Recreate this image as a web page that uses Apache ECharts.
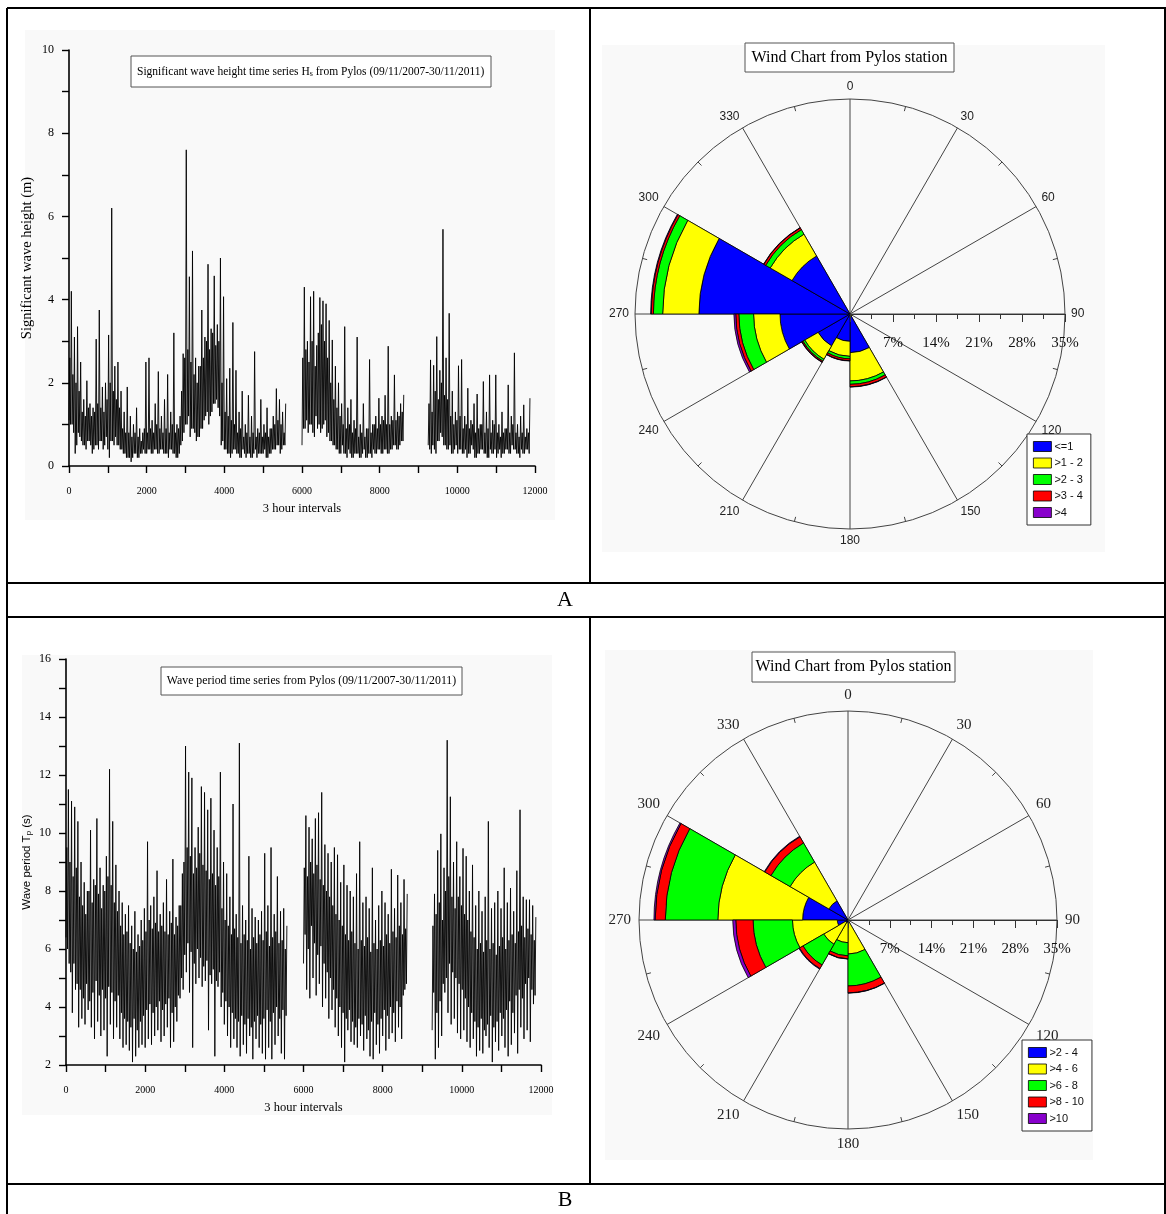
<!DOCTYPE html>
<html>
<head>
<meta charset="utf-8">
<title>Pylos wave and wind charts</title>
<script src="https://cdn.jsdelivr.net/npm/echarts@6/dist/echarts.min.js"></script>
<style>
  html, body { margin: 0; padding: 0; background: #fff; }
  #main { width: 1166px; height: 1214px; }
</style>
</head>
<body>
<div id="main"></div>
<script>
// ---------- time series: each group of four is trough, core top, trough, peak,
// ---------- one value every 20 three-hour steps ----------
const STEP = 20;
const SEGMENT_STARTS = [0, 6000, 9250];

// significant wave height Hs (m)
const hsSeg1 = [
  1.1,2.6,1.0,4.2, 1.0,2.2,0.8,3.1, 0.3,2.0,0.5,3.35, 0.8,1.8,0.7,2.5, 0.6,1.3,0.5,1.6,
  0.5,1.2,0.4,2.05, 0.6,1.4,0.6,1.5, 0.5,1.2,0.3,1.4, 0.4,1.3,0.5,3.05, 0.5,1.5,0.4,3.75,
  0.6,1.4,0.6,1.9, 0.4,1.3,0.5,2.0, 0.7,1.6,0.4,3.15, 0.2,2.0,0.6,6.2, 0.6,1.8,0.5,2.4,
  0.7,1.6,0.5,2.5, 0.5,1.4,0.4,1.8, 0.4,0.9,0.3,1.3, 0.3,0.8,0.2,1.9, 0.2,0.8,0.2,1.2,
  0.1,0.7,0.2,1.0, 0.3,0.8,0.3,1.4, 0.2,0.7,0.2,0.9, 0.3,0.6,0.3,0.8, 0.4,0.9,0.3,2.5,
  0.3,0.8,0.4,2.6, 0.4,0.9,0.3,1.1, 0.3,0.8,0.4,1.5, 0.4,1.0,0.3,2.27, 0.3,0.9,0.4,1.2,
  0.4,0.8,0.3,1.6, 0.3,0.9,0.3,2.2, 0.2,0.8,0.4,1.3, 0.4,1.0,0.3,3.2, 0.3,0.8,0.2,1.0,
  0.2,0.9,0.3,1.2, 0.5,1.8,0.6,2.7, 0.8,2.6,1.0,7.6, 1.0,2.8,1.2,4.55, 0.7,2.5,0.9,5.17,
  0.9,2.2,0.8,2.6, 0.6,2.0,0.7,2.4, 0.7,2.4,0.9,3.75, 0.9,2.6,1.1,3.1, 1.2,3.0,1.3,4.85,
  1.0,2.8,1.2,3.3, 1.3,3.2,1.5,4.57, 1.5,2.9,1.6,3.4, 1.4,3.0,1.2,5.0, 0.5,2.0,0.6,4.07,
  0.4,1.3,0.4,2.1, 0.3,1.2,0.3,2.35, 0.2,1.1,0.3,3.45, 0.4,1.0,0.4,2.3, 0.3,0.8,0.3,1.3,
  0.2,0.9,0.2,1.8, 0.4,0.7,0.3,1.0, 0.2,0.8,0.3,1.7, 0.3,0.7,0.2,1.2, 0.2,0.8,0.3,2.75,
  0.4,0.7,0.2,0.9, 0.3,0.8,0.3,1.6, 0.3,0.7,0.3,1.0, 0.4,0.8,0.2,1.4, 0.2,0.7,0.3,0.9,
  0.3,0.9,0.4,1.2, 0.4,1.0,0.4,1.86, 0.5,1.1,0.5,1.6, 0.3,1.0,0.4,1.3, 0.5,0.8,0.5,1.5];
const hsSeg2 = [
  0.5,2.6,0.9,4.3, 0.9,2.8,1.1,3.0, 0.8,2.5,1.0,4.07, 1.0,3.0,0.8,4.2, 0.7,2.4,1.2,2.9,
  0.9,3.2,1.0,4.05, 0.8,3.4,0.9,3.97, 1.0,3.0,1.1,3.9, 0.7,2.6,0.8,3.5, 0.6,2.0,0.6,3.03,
  0.5,1.6,0.5,2.4, 0.4,1.4,0.4,2.0, 0.3,1.2,0.3,1.5, 0.5,1.0,0.3,3.35, 0.3,0.9,0.2,1.4,
  0.4,1.0,0.3,1.6, 0.2,0.8,0.2,1.1, 0.3,0.9,0.3,3.1, 0.3,0.7,0.2,1.0, 0.2,0.8,0.3,1.5,
  0.4,0.7,0.2,0.9, 0.2,0.9,0.3,2.56, 0.3,0.8,0.2,1.0, 0.4,1.0,0.3,1.2, 0.3,0.9,0.4,1.63,
  0.4,1.0,0.3,1.2, 0.3,1.1,0.4,1.7, 0.4,1.0,0.3,2.88, 0.3,1.0,0.4,1.2, 0.4,1.1,0.5,2.19,
  0.5,1.1,0.4,1.3, 0.4,1.2,0.5,1.5, 0.6,1.3,0.6,1.71];
const hsSeg3 = [
  0.5,1.5,0.4,2.55, 0.3,1.3,0.5,2.42, 0.4,1.8,0.3,3.11, 0.6,1.6,0.6,2.3, 0.8,2.0,0.7,5.69,
  0.5,1.7,0.5,2.6, 0.4,1.6,0.4,3.67, 0.5,1.2,0.3,1.8, 0.3,1.0,0.4,1.3, 0.5,1.1,0.3,2.41,
  0.4,1.2,0.4,2.56, 0.3,0.9,0.3,1.2, 0.4,1.0,0.2,1.87, 0.3,0.9,0.3,1.1, 0.5,1.0,0.4,1.5,
  0.2,0.8,0.2,1.73, 0.3,0.9,0.3,1.0, 0.4,1.0,0.4,2.03, 0.3,0.8,0.3,1.3, 0.2,0.9,0.2,2.19,
  0.4,0.8,0.3,1.1, 0.3,1.0,0.4,2.19, 0.2,0.8,0.3,1.0, 0.4,0.7,0.2,1.3, 0.3,0.8,0.3,0.9,
  0.4,0.9,0.4,1.95, 0.3,0.8,0.3,1.2, 0.5,1.0,0.4,2.72, 0.4,0.8,0.3,1.0, 0.3,0.7,0.2,1.2,
  0.4,0.8,0.3,1.47, 0.3,0.7,0.4,0.9, 0.4,0.8,0.3,1.63];

// peak wave period Tp (s)
const tpSeg1 = [
  6.4,9.5,6.0,11.5, 5.5,9.0,5.2,11.1, 3.8,8.5,5.5,10.9, 4.6,8.8,4.8,10.4, 3.3,7.8,4.6,9.0,
  3.6,7.5,4.3,8.3, 3.4,7.2,4.8,8.0, 3.9,8.0,4.2,10.1, 3.3,7.6,4.5,8.4, 2.9,8.2,4.9,10.5,
  3.5,7.9,4.4,8.8, 3.0,7.4,4.6,8.2, 3.2,8.0,4.3,9.2, 2.3,8.5,4.7,12.2, 3.4,8.2,4.5,10.4,
  2.9,7.6,4.2,8.9, 3.3,7.3,4.4,8.0, 2.9,6.8,3.8,7.6, 2.6,6.5,3.6,7.2, 2.7,6.6,3.5,7.5,
  2.5,6.2,3.3,6.8, 2.1,6.0,3.6,7.3, 2.3,5.9,3.2,6.5, 2.6,6.1,3.5,7.0, 2.7,6.3,3.7,7.4,
  2.6,6.6,3.9,9.7, 2.9,7.0,4.1,7.5, 2.7,6.7,3.8,7.8, 3.0,6.9,4.0,8.7, 3.2,6.6,4.2,7.2,
  2.8,6.8,3.9,7.6, 3.0,6.6,4.1,8.4, 3.3,6.5,4.3,7.3, 2.6,6.9,3.8,9.1, 2.8,6.5,4.0,7.1,
  3.5,6.8,4.4,7.5, 4.3,7.5,5.0,8.6, 4.6,9.0,5.8,13.0, 5.2,9.5,6.2,12.1, 4.5,9.2,5.9,11.9,
  2.6,8.6,5.5,9.5, 4.8,8.8,6.0,10.2, 5.0,9.3,5.7,11.6, 4.7,8.9,5.4,11.4, 4.9,8.7,5.6,10.8,
  3.2,8.4,5.1,11.2, 4.8,8.6,5.3,10.1, 2.3,8.2,4.9,9.5, 4.7,8.5,5.2,12.1, 4.0,7.4,4.5,9.0,
  3.4,7.0,4.2,8.6, 3.0,6.8,4.0,7.8, 2.6,6.5,3.8,11.0, 2.9,6.7,3.6,7.2, 2.6,6.4,3.5,13.1,
  2.3,6.2,3.7,7.5, 2.7,6.5,3.4,7.0, 2.4,6.3,3.6,9.2, 3.0,6.0,3.3,7.4, 2.2,6.4,3.5,7.1,
  2.9,6.2,3.7,7.0, 2.6,6.5,3.4,7.3, 2.4,6.3,3.6,9.3, 2.2,6.6,3.9,7.5, 2.6,6.1,3.5,9.5,
  2.2,6.4,3.8,7.2, 2.7,6.6,4.0,8.5, 3.0,6.2,3.6,7.3, 2.4,6.3,3.9,7.4, 2.2,6.0,3.7,6.8];
const tpSeg2 = [
  5.5,8.8,6.5,10.6, 4.6,8.5,6.0,10.2, 4.3,9.0,6.8,9.8, 5.0,8.6,6.2,10.5, 4.4,8.9,5.8,10.7,
  4.8,8.4,6.1,11.4, 4.0,8.2,5.5,9.6, 4.3,8.0,5.2,9.3, 3.6,7.8,5.0,9.0, 3.9,7.5,4.6,9.5,
  3.3,7.2,4.3,9.25, 3.0,7.0,4.0,8.3, 2.6,6.8,3.8,8.9, 2.1,6.5,3.6,8.2, 3.2,6.3,3.9,8.0,
  2.8,6.6,3.5,7.8, 2.7,6.2,3.3,8.6, 2.6,6.0,3.6,9.7, 3.0,6.3,3.4,7.6, 2.5,6.1,3.7,7.8,
  2.9,6.4,3.2,7.4, 2.3,5.9,3.5,8.8, 2.2,6.2,3.8,7.0, 2.7,6.0,3.4,7.5, 2.4,6.3,3.6,8.0,
  3.0,6.1,3.9,7.6, 2.5,6.5,3.7,7.2, 2.9,6.2,4.0,8.75, 3.1,6.6,3.8,7.4, 2.8,6.4,4.2,8.55,
  3.3,6.8,4.0,7.6, 2.9,6.5,4.4,8.4, 4.6,6.7,4.8,7.9];
const tpSeg3 = [
  3.2,6.8,4.5,7.9, 2.2,7.2,3.8,9.4, 2.6,7.6,4.2,9.97, 3.0,7.0,4.8,8.8, 4.5,8.0,5.0,13.2,
  3.8,8.5,5.5,11.25, 3.4,7.8,5.2,9.0, 3.6,7.4,5.0,9.7, 3.1,7.8,4.8,8.5, 2.9,7.5,4.6,9.47,
  3.2,7.2,4.3,9.2, 2.8,7.0,4.0,8.0, 2.6,6.6,3.8,8.9, 2.9,6.4,3.5,7.5, 2.3,6.0,3.3,8.0,
  2.5,6.2,3.6,7.3, 2.4,5.9,3.2,7.8, 3.0,6.3,3.4,10.4, 2.6,6.0,3.7,7.4, 2.1,6.2,3.3,7.6,
  2.8,5.8,3.5,8.0, 2.5,6.1,3.8,7.4, 3.0,6.4,3.6,8.8, 2.6,6.0,3.9,7.6, 2.3,6.3,4.2,8.1,
  2.7,6.5,3.8,7.3, 3.1,6.2,4.4,8.7, 2.4,6.6,4.6,10.8, 3.3,6.8,4.3,7.8, 2.9,6.4,4.8,7.7,
  3.2,6.7,5.0,7.7, 2.8,6.5,4.6,7.5, 4.1,6.3,4.4,7.1];

// ---------- rose diagrams: frequency (%) per 30-degree direction sector ----------
const directionBins = ['0-30','30-60','60-90','90-120','120-150','150-180',
                       '180-210','210-240','240-270','270-300','300-330','330-360'];

const hsClasses = ['<=1', '>1 - 2', '>2 - 3', '>3 - 4', '>4'];
const hsUpTo1  = ['-','-','-','-', 0.3, 6.3, 4.45, 6.0, 11.4, 24.6, 10.9, '-'];
const hs1to2   = ['-','-','-','-', 0.1, 4.6, 2.45, 2.5, 4.3, 5.9, 4.1, '-'];
const hs2to3   = ['-','-','-','-','-', 0.55, 0.4, 0.35, 2.4, 1.5, 0.85, '-'];
const hs3to4   = ['-','-','-','-','-', 0.4, 0.3, 0.2, 0.5, 0.35, 0.35, '-'];
const hsAbove4 = ['-','-','-','-','-', 0.05, 0.05, 0.05, 0.3, 0.1, 0.05, '-'];

const tpClasses = ['>2 - 4', '>4 - 6', '>6 - 8', '>8 - 10', '>10'];
const tp2to4    = ['-','-','-','-','-', 0.3, 0.4, 0.5, 1.8, 7.6, 3.7, '-'];
const tp4to6    = ['-','-','-','-','-', 5.4, 3.4, 4.2, 7.5, 14.2, 7.5, '-'];
const tp6to8    = ['-','-','-','-','-', 5.35, 2.2, 4.0, 6.6, 8.8, 3.7, '-'];
const tp8to10   = ['-','-','-','-','-', 1.15, 0.5, 0.7, 2.9, 1.7, 1.2, '-'];
const tpAbove10 = ['-','-','-','-','-', 0.05, 0.05, 0.1, 0.5, 0.2, 0.1, '-'];

const classColors = ['#0000ff', '#ffff00', '#00ff00', '#ff0000', '#8800cc'];

// ---------- styling ----------
const SERIF = 'Liberation Serif';
const SANS = 'Liberation Sans';

function toPoints(start, values) {
  return values.map((v, i) => [start + i * STEP, v]);
}

function waveLine(axisIndex, start, values) {
  return {
    type: 'line', xAxisIndex: axisIndex, yAxisIndex: axisIndex,
    data: toPoints(start, values), symbol: 'none', silent: true, sampling: null,
    lineStyle: { color: '#000', width: 0.9 }
  };
}

function roseBar(polarIndex, stack, name, data, color) {
  return {
    type: 'bar', coordinateSystem: 'polar', polarIndex: polarIndex,
    stack: stack, name: name, data: data, barCategoryGap: '0%', silent: true,
    itemStyle: { color: color, borderColor: '#000', borderWidth: 0.8 }
  };
}

function timeXAxis(gridIndex) {
  return {
    gridIndex: gridIndex, type: 'value', min: 0, max: 12000, interval: 1000,
    axisLine: { lineStyle: { color: '#000', width: 1.6 } },
    axisTick: { length: 7, lineStyle: { color: '#000', width: 1.4 } },
    splitLine: { show: false },
    axisLabel: { formatter: v => (v % 2000 === 0 ? String(v) : ''), fontFamily: SERIF, fontSize: 10, color: '#000', margin: 20 },
    name: '3 hour intervals', nameLocation: 'middle', nameGap: 36,
    nameTextStyle: { fontFamily: SERIF, fontSize: 12.5, color: '#000' }
  };
}

function timeYAxis(gridIndex, min, max) {
  return {
    gridIndex: gridIndex, type: 'value', min: min, max: max, interval: 1,
    axisLine: { show: true, lineStyle: { color: '#000', width: 1.6 } },
    axisTick: { show: true, length: 7, lineStyle: { color: '#000', width: 1.4 } },
    splitLine: { show: false },
    axisLabel: { formatter: v => (v % 2 === 0 ? String(v) : ''), fontFamily: SERIF, fontSize: 12, color: '#000', margin: 15 },
    nameLocation: 'middle'
  };
}

function frameAngleAxis(polarIndex, font, size, margin) {
  return {
    polarIndex: polarIndex, type: 'value', min: 0, max: 360, interval: 30,
    startAngle: 90, clockwise: true, z: 1,
    axisLine: { lineStyle: { color: '#444', width: 1 } },
    axisTick: { show: false, inside: true },
    minorTick: { show: true, splitNumber: 2, length: 5, lineStyle: { color: '#444' } },
    splitLine: { show: true, lineStyle: { color: '#444', width: 1 } },
    axisLabel: { color: '#222', fontFamily: font, fontSize: size, margin: margin }
  };
}

function percentXAxis(gridIndex) {
  return {
    gridIndex: gridIndex, type: 'value', min: 0, max: 35, interval: 7, z: 5,
    axisLine: { lineStyle: { color: '#333', width: 1 } },
    axisTick: { length: 8, lineStyle: { color: '#333' } },
    minorTick: { show: true, splitNumber: 2, length: 5, lineStyle: { color: '#333' } },
    splitLine: { show: false },
    axisLabel: { formatter: '{value}%', showMinLabel: false, margin: 22, fontFamily: SERIF, fontSize: 15, color: '#111' }
  };
}

function roseLegend(names, left, top) {
  return {
    data: names, orient: 'vertical', left: left, top: top,
    padding: [7, 8, 7, 6], itemWidth: 18, itemHeight: 10, itemGap: 5.5,
    backgroundColor: '#fff', borderColor: '#333', borderWidth: 1,
    icon: 'rect', selectedMode: false,
    itemStyle: { borderColor: '#000', borderWidth: 0.8 },
    textStyle: { fontFamily: SANS, fontSize: 11, color: '#111', padding: [0, 0, 0, -2] }
  };
}

function boxedTitle(x, y, w, h, text, size, rich, align) {
  return [
    { type: 'rect', shape: { x: x, y: y, width: w, height: h }, z: 10,
      style: { fill: '#fff', stroke: '#555', lineWidth: 1 } },
    { type: 'text', z: 11,
      x: align === 'left' ? x + 6 : x + w / 2, y: y + h / 2,
      style: { text: text, fontFamily: SERIF, fontSize: size, fill: '#000',
               align: align || 'center', verticalAlign: 'middle', rich: rich || {} } }
  ];
}

// table frame of the figure, panel backgrounds and captions
const frame = [];
[[7, 8, 1166, 8], [7, 583, 1166, 583], [7, 617, 1166, 617], [7, 1184, 1166, 1184],
 [7, 8, 7, 1214], [1165, 8, 1165, 1214], [590, 8, 590, 583], [590, 617, 590, 1184]]
  .forEach(l => frame.push({ type: 'line', z: 100,
    shape: { x1: l[0], y1: l[1], x2: l[2], y2: l[3] }, style: { stroke: '#000', lineWidth: 2 } }));

const panels = [[25, 30, 530, 490], [602, 45, 503, 507], [22, 655, 530, 460], [605, 650, 488, 510]]
  .map(p => ({ type: 'rect', z: -10, shape: { x: p[0], y: p[1], width: p[2], height: p[3] },
               style: { fill: '#f9f9f9' } }));

const captions = [
  { type: 'text', x: 565, y: 600, z: 100, style: { text: 'A', fontFamily: SERIF, fontSize: 22, fill: '#000', align: 'center', verticalAlign: 'middle' } },
  { type: 'text', x: 565, y: 1200, z: 100, style: { text: 'B', fontFamily: SERIF, fontSize: 22, fill: '#000', align: 'center', verticalAlign: 'middle' } }
];

const subRich = { sub: { fontSize: 8, fontFamily: SERIF, verticalAlign: 'bottom' } };

const titles = [].concat(
  boxedTitle(131, 56, 360, 31, 'Significant wave height time series H{sub|s} from Pylos (09/11/2007-30/11/2011)', 11.5, subRich, 'left'),
  boxedTitle(161, 667, 301, 28, 'Wave period time series from Pylos (09/11/2007-30/11/2011)', 11.8, null, 'center'),
  boxedTitle(745, 43, 209, 29, 'Wind Chart from Pylos station', 16),
  boxedTitle(752, 652, 203, 30, 'Wind Chart from Pylos station', 16)
);

const hsYAxis = Object.assign(timeYAxis(0, 0, 10), {
  name: 'Significant wave height (m)', nameGap: 34,
  nameTextStyle: { fontFamily: SERIF, fontSize: 14.5, color: '#000' }
});
const tpYAxis = Object.assign(timeYAxis(1, 2, 16), {
  name: 'Wave period T{p|p} (s)', nameGap: 33,
  nameTextStyle: { fontFamily: SANS, fontSize: 11.5, color: '#000',
    rich: { p: { fontFamily: SANS, fontSize: 8, verticalAlign: 'bottom' } } }
});

const chart = echarts.init(document.getElementById('main'), null, { renderer: 'canvas' });

chart.setOption({
  animation: false,
  backgroundColor: '#fff',
  graphic: { elements: [].concat(panels, frame, captions, titles) },
  grid: [
    { left: 69, top: 50, width: 466, height: 416 },
    { left: 66, top: 659, width: 475, height: 406 },
    { left: 850, top: 294, width: 215, height: 20 },
    { left: 848, top: 900, width: 209, height: 20 }
  ],
  xAxis: [timeXAxis(0), timeXAxis(1), percentXAxis(2), percentXAxis(3)],
  yAxis: [
    hsYAxis, tpYAxis,
    { gridIndex: 2, type: 'value', show: false },
    { gridIndex: 3, type: 'value', show: false }
  ],
  polar: [
    { center: [850, 314], radius: 215 },
    { center: [850, 314], radius: 215 },
    { center: [848, 920], radius: 209 },
    { center: [848, 920], radius: 209 }
  ],
  angleAxis: [
    frameAngleAxis(0, SANS, 12, 6),
    { polarIndex: 1, type: 'category', data: directionBins, startAngle: 90, clockwise: true, show: false },
    frameAngleAxis(2, SERIF, 15, 8),
    { polarIndex: 3, type: 'category', data: directionBins, startAngle: 90, clockwise: true, show: false }
  ],
  radiusAxis: [
    { polarIndex: 0, type: 'value', min: 0, max: 35, show: false },
    { polarIndex: 1, type: 'value', min: 0, max: 35, show: false },
    { polarIndex: 2, type: 'value', min: 0, max: 35, show: false },
    { polarIndex: 3, type: 'value', min: 0, max: 35, show: false }
  ],
  legend: [roseLegend(hsClasses, 1027, 434), roseLegend(tpClasses, 1022, 1040)],
  series: [
    waveLine(0, SEGMENT_STARTS[0], hsSeg1),
    waveLine(0, SEGMENT_STARTS[1], hsSeg2),
    waveLine(0, SEGMENT_STARTS[2], hsSeg3),
    waveLine(1, SEGMENT_STARTS[0], tpSeg1),
    waveLine(1, SEGMENT_STARTS[1], tpSeg2),
    waveLine(1, SEGMENT_STARTS[2], tpSeg3),
    roseBar(1, 'hs', hsClasses[0], hsUpTo1, classColors[0]),
    roseBar(1, 'hs', hsClasses[1], hs1to2, classColors[1]),
    roseBar(1, 'hs', hsClasses[2], hs2to3, classColors[2]),
    roseBar(1, 'hs', hsClasses[3], hs3to4, classColors[3]),
    roseBar(1, 'hs', hsClasses[4], hsAbove4, classColors[4]),
    roseBar(3, 'tp', tpClasses[0], tp2to4, classColors[0]),
    roseBar(3, 'tp', tpClasses[1], tp4to6, classColors[1]),
    roseBar(3, 'tp', tpClasses[2], tp6to8, classColors[2]),
    roseBar(3, 'tp', tpClasses[3], tp8to10, classColors[3]),
    roseBar(3, 'tp', tpClasses[4], tpAbove10, classColors[4])
  ]
});
</script>
</body>
</html>
